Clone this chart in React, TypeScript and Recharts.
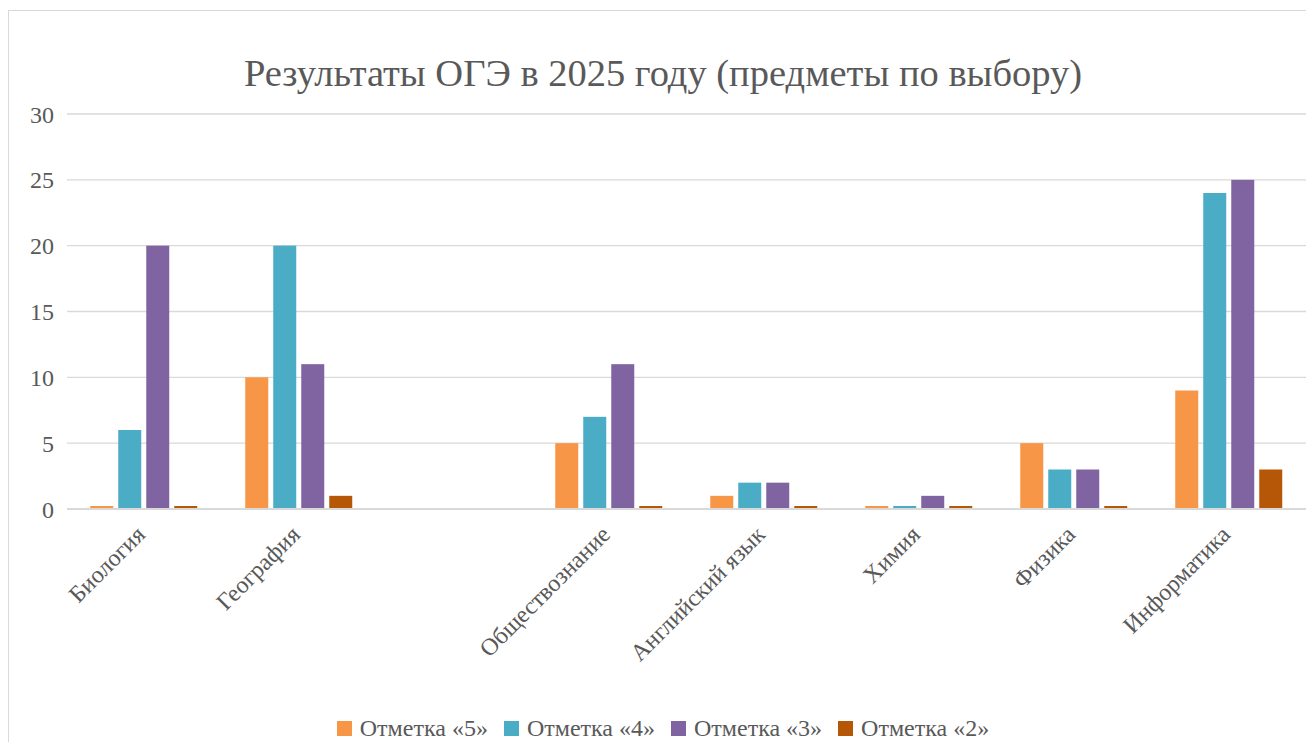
import React from "react";
import { BarChart, Bar, XAxis, YAxis, CartesianGrid, Legend } from "recharts";

const subjects = ["Биология", "География", "", "Обществознание", "Английский язык", "Химия", "Физика", "Информатика"];
const grade5 = [0, 10, null, 5, 1, 0, 5, 9];
const grade4 = [6, 20, null, 7, 2, 0, 3, 24];
const grade3 = [20, 11, null, 11, 2, 1, 3, 25];
const grade2 = [0, 1, null, 0, 0, 0, 0, 3];
const yTicks = [0, 5, 10, 15, 20, 25, 30];

const data = subjects.map((name, i) => ({
  name,
  g5: grade5[i],
  g4: grade4[i],
  g3: grade3[i],
  g2: grade2[i],
}));

const series = [
  { key: "g5", label: "Отметка «5»", color: "#F79646" },
  { key: "g4", label: "Отметка «4»", color: "#4BACC6" },
  { key: "g3", label: "Отметка «3»", color: "#8064A2" },
  { key: "g2", label: "Отметка «2»", color: "#B65708" },
];

const FONT = '"Liberation Serif", "Times New Roman", serif';
const TEXT = "#595959";

// Excel draws zero values as a thin line on the axis
const ZeroAwareBar = (props: any) => {
  const { x, y, width, height, fill, value } = props;
  if (value === null || value === undefined) return null;
  const v = Array.isArray(value) ? value[1] - value[0] : value;
  if (!v) {
    return <rect x={x} y={y - 3} width={width} height={2} fill={fill} />;
  }
  return <rect x={x} y={y} width={width} height={height} fill={fill} />;
};

const AngledTick = (props: any) => {
  const { x, y, payload } = props;
  return (
    <g transform={`translate(${x + 2},${y + 19}) rotate(-45)`}>
      <text textAnchor="end" fill={TEXT} fontSize={24} fontFamily={FONT}>
        {payload.value}
      </text>
    </g>
  );
};

const LegendBox = () => (
  <div
    style={{
      display: "flex",
      justifyContent: "center",
      gap: 16,
      fontFamily: FONT,
      fontSize: 24,
      color: TEXT,
      lineHeight: "26px",
    }}
  >
    {series.map((s) => (
      <span key={s.key} style={{ display: "inline-flex", alignItems: "center" }}>
        <span style={{ width: 15, height: 15, background: s.color, marginRight: 8, display: "inline-block" }} />
        {s.label}
      </span>
    ))}
  </div>
);

const App = () => {
  return (
    <div
      style={{
        position: "relative",
        width: 1310,
        height: 740,
        marginTop: 2,
        border: "1px solid #d9d9d9",
        boxSizing: "border-box",
        background: "#fff",
      }}
    >
      <div
        style={{
          position: "absolute",
          top: 40,
          left: 0,
          width: "100%",
          textAlign: "center",
          fontFamily: FONT,
          fontSize: 38.5,
          color: TEXT,
        }}
      >
        Результаты ОГЭ в 2025 году (предметы по выбору)
      </div>
      <BarChart
        width={1306}
        height={730}
        data={data}
        margin={{ top: 103, right: 8, left: 10, bottom: 0 }}
        barGap={5}
        barCategoryGap="15%"
      >
        <CartesianGrid vertical={false} stroke="#d9d9d9" strokeWidth={1.3} />
        <XAxis
          dataKey="name"
          interval={0}
          height={206}
          tick={<AngledTick />}
          tickLine={false}
          axisLine={{ stroke: "#d9d9d9", strokeWidth: 2 }}
        />
        <YAxis
          width={48}
          domain={[0, 30]}
          ticks={yTicks}
          tickLine={false}
          axisLine={false}
          tick={{ fill: TEXT, fontSize: 24, fontFamily: FONT }}
          tickMargin={7}
        />
        <Legend verticalAlign="bottom" height={26} content={<LegendBox />} />
        {series.map((s) => (
          <Bar
            key={s.key}
            dataKey={s.key}
            name={s.label}
            fill={s.color}
            shape={<ZeroAwareBar />}
            isAnimationActive={false}
          />
        ))}
      </BarChart>
    </div>
  );
};

export default App;
